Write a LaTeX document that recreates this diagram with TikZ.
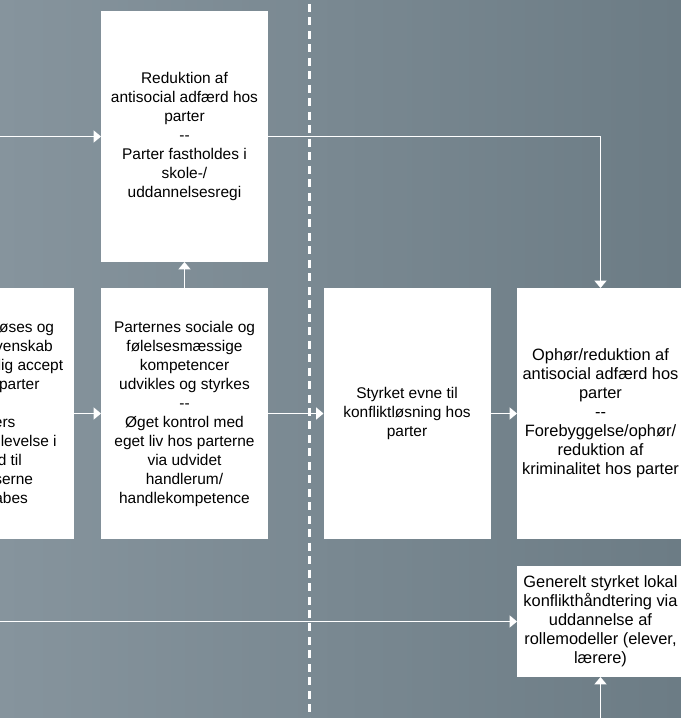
\documentclass[tikz,border=0pt]{standalone}
\usepackage{fontspec}
\setmainfont{Liberation Sans}
\usepackage{tikz}
\usetikzlibrary{arrows.meta,positioning}
\usepackage{xcolor}
\definecolor{bgleft}{RGB}{134,148,157}
\definecolor{bgright}{RGB}{108,124,133}
\tikzstyle{box} = [fill=white, align=center, inner sep=2pt, outer sep=0pt, minimum width=125.25pt, minimum height=188.25pt, font=\fontsize{11.6}{14.25}\selectfont]
\tikzstyle{bigbox} = [box, font=\fontsize{12.3}{14.25}\selectfont]
\tikzstyle{flow} = [white, line width=0.9pt, -{Triangle[length=5.5pt,width=9pt]}]
\tikzstyle{divider} = [white, line width=1.9pt, dash pattern=on 6pt off 4.1pt, dash phase=7.1pt]

\begin{document}
\begin{tikzpicture}[x=0.75pt, y=-0.75pt]
\useasboundingbox (0,0) rectangle (681,718);
\clip (0,0) rectangle (681,718);
% Background
\shade[left color=bgleft, right color=bgright] (0,0) rectangle (681,718);
\draw[divider] (309.5,0) -- (309.5,718);

% Boxes
\node[box] (redux) at (184.5,136.5) {Reduktion af\\antisocial adfærd hos\\parter\\-{}-\\Parter fastholdes i\\skole-/\\uddannelsesregi};
\node[box] (losning) at (-9.5,413.5) {Konflikter løses og\\genskabt venskab\\samt gensidig accept\\imellem parter\\-{}-\\Parters\\tryghedsoplevelse i\\forhold til\\processerne\\genskabes};
\node[box] (komp) at (184.5,413.5) {Parternes sociale og\\følelsesmæssige\\kompetencer\\udvikles og styrkes\\-{}-\\Øget kontrol med\\eget liv hos parterne\\via udvidet\\handlerum/\\handlekompetence};
\node[box] (evne) at (407,413.5) {Styrket evne til\\konfliktløsning hos\\parter};
\node[bigbox] (ophor) at (600.5,413.5) {Ophør/reduktion af\\antisocial adfærd hos\\parter\\-{}-\\Forebyggelse/ophør/\\reduktion af\\kriminalitet hos parter};
\node[bigbox, minimum height=83.25pt] (lokal) at (600.5,621.5) {Generelt styrket lokal\\konflikthåndtering via\\uddannelse af\\rollemodeller (elever,\\lærere)};

% Loose ends
\coordinate (inTop) at (0,136.5);
\coordinate (inLow) at (0,621.5);
\coordinate (inBot) at (600.5,718);

% Arrows
\draw[flow] (inTop) -- (redux.west);
\draw[flow] (redux.east) -| (ophor.north);
\draw[flow] (komp.north) -- (redux.south);
\draw[flow] (losning.east) -- (komp.west);
\draw[flow] (komp.east) -- (evne.west);
\draw[flow] (evne.east) -- (ophor.west);
\draw[flow] (inLow) -- (lokal.west);
\draw[flow] (inBot) -- (lokal.south);
\end{tikzpicture}
\end{document}
